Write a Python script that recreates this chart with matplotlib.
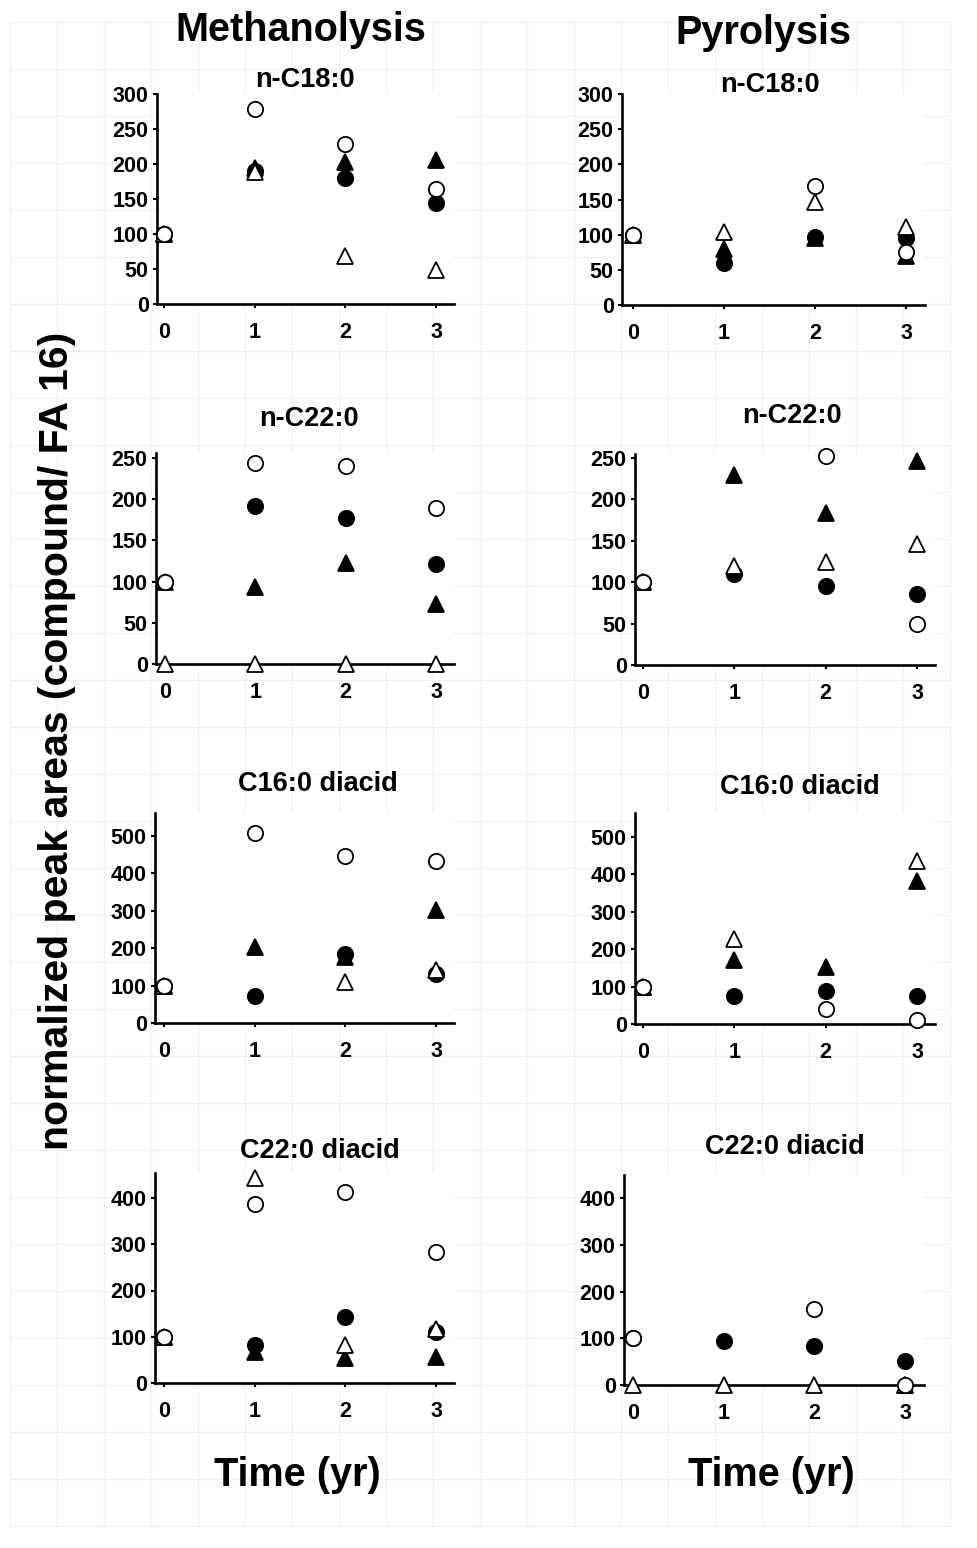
import numpy as np
import matplotlib.pyplot as plt

plt.rcParams['font.family'] = ['Liberation Sans', 'DejaVu Sans']
plt.rcParams['font.weight'] = 'bold'

nan = np.nan
years = [0, 1, 2, 3]
compounds = ["n-C18:0", "n-C22:0", "C16:0 diacid", "C22:0 diacid"]
methods = ["Methanolysis", "Pyrolysis"]
y_tops = [300, 250, 500, 400]

# methanolysis, one row per compound (same order as compounds)
meth_open_circle = [[100, 278, 229, 164],
                    [100, 244, 240, 189],
                    [100, 509, 447, 433],
                    [100, 387, 412, 284]]
meth_filled_circle = [[100, 190, 180, 144],
                      [100, 192, 177, 121],
                      [100, 72, 184, 131],
                      [100, 82, 142, 110]]
meth_open_tri = [[100, 188, 69, 49],
                 [0, 0, 0, 0],
                 [100, nan, 109, 142],
                 [100, 444, 82, 116]]
meth_filled_tri = [[100, 194, 203, 206],
                   [100, 93, 122, 73],
                   [100, 202, 176, 302],
                   [100, 66, 53, 57]]

# pyrolysis
pyr_open_circle = [[100, nan, 169, 76],
                   [100, nan, 252, 50],
                   [100, nan, 39, 11],
                   [100, nan, 163, 0]]
pyr_filled_circle = [[100, 60, 97, 95],
                     [100, 110, 96, 86],
                     [100, 76, 88, 76],
                     [100, 95, 84, 51]]
pyr_open_tri = [[100, 104, 147, 111],
                [100, 120, 124, 146],
                [100, 227, nan, 436],
                [0, 0, 0, 0]]
pyr_filled_tri = [[100, 80, 95, 69],
                  [100, 229, 184, 246],
                  [100, 171, 153, 382],
                  [nan, nan, nan, 0]]

W, H = 977, 1548
fig = plt.figure(figsize=(W/100, H/100), dpi=100)

# faint graph-paper background
bg = fig.add_axes([0, 0, 1, 1], zorder=-5)
bg.set_xlim(0, W)
bg.set_ylim(H, 0)
bg.axis('off')
gx = 9.7 + 47*np.arange(21)
gy = 22 + 47*np.arange(33)
bg.vlines(gx, gy[0], gy[-1], color='#f0f0f0', lw=0.9)
bg.hlines(gy, gx[0], gx[-1], color='#f0f0f0', lw=0.9)

# panel boxes in pixels: left, right, top, bottom, x of 0, x of 3
boxes = [
    [(157, 454, 94, 304, 164, 436), (622, 925, 94, 305, 633, 906)],
    [(156, 454, 453, 664, 165, 436), (635, 935, 454, 665, 643, 917)],
    [(155, 454, 813, 1023, 164, 436), (635, 935, 813, 1024, 643, 917)],
    [(155, 454, 1173, 1383, 164, 436), (624, 924, 1175, 1385, 633, 905)],
]
# value of top tick and its pixel y
top_tick_px = [[(300, 94), (300, 94)], [(250, 458), (250, 458)],
               [(500, 836), (500, 837)], [(400, 1198), (400, 1198)]]
title_pos = [[(305, 80), (770, 85)], [(309, 419), (792, 416)],
             [(318, 784), (800, 787)], [(320, 1151), (785, 1147)]]

series = {
    0: [meth_filled_tri, meth_filled_circle, meth_open_tri, meth_open_circle],
    1: [pyr_filled_tri, pyr_filled_circle, pyr_open_tri, pyr_open_circle],
}
styles = [('^', 'black'), ('o', 'black'), ('^', 'white'), ('o', 'white')]

for r in range(4):
    for c in range(2):
        L, R, T, B, x0, x3 = boxes[r][c]
        ax = fig.add_axes([L/W, 1 - B/H, (R-L)/W, (B-T)/H])
        ax.set_facecolor('white')
        ppu = (x3 - x0)/3
        ax.set_xlim(-(x0 - L)/ppu, 3 + (R - x3)/ppu)
        tv, tp = top_tick_px[r][c]
        ytop = tv*(B - T)/(B - tp)
        ax.set_ylim(0, ytop)
        step = 50 if y_tops[r] <= 300 else 100
        ax.set_yticks(np.arange(0, y_tops[r] + 1, step))
        ax.set_xticks(years)
        for s in ['top', 'right']:
            ax.spines[s].set_visible(False)
        for s in ['left', 'bottom']:
            ax.spines[s].set_linewidth(1.9)
        ax.tick_params(axis='y', length=3, width=1.5, pad=3, labelsize=15.5)
        ax.tick_params(axis='x', length=3, width=1.5, pad=10, labelsize=15.5)
        for lab in ax.get_xticklabels() + ax.get_yticklabels():
            lab.set_fontweight('bold')
        for k, (data, (mk, fc)) in enumerate(zip(series[c], styles)):
            ms = 11.5 if mk == '^' else 11
            ax.plot(years, data[r], linestyle='none', marker=mk, ms=ms,
                    mfc=fc, mec='black', mew=1.3, clip_on=False, zorder=3 + k)
        tx, ty = title_pos[r][c]
        fig.text(tx/W, 1 - ty/H, compounds[r], ha='center', va='center',
                 fontsize=19.5, fontweight='bold')

fig.text(301/W, 1 - 30/H, methods[0], ha='center', va='center', fontsize=28.5, fontweight='bold')
fig.text(763/W, 1 - 33/H, methods[1], ha='center', va='center', fontsize=28.5, fontweight='bold')
fig.text(297/W, 1 - 1475/H, 'Time (yr)', ha='center', va='center', fontsize=28.5, fontweight='bold')
fig.text(771/W, 1 - 1475/H, 'Time (yr)', ha='center', va='center', fontsize=28.5, fontweight='bold')
fig.text(57/W, 1 - 741/H, 'normalized peak areas (compound/ FA 16)', rotation=90,
         ha='center', va='center', fontsize=29.5, fontweight='bold')

fig.savefig('out.png', dpi=100, facecolor='white')
